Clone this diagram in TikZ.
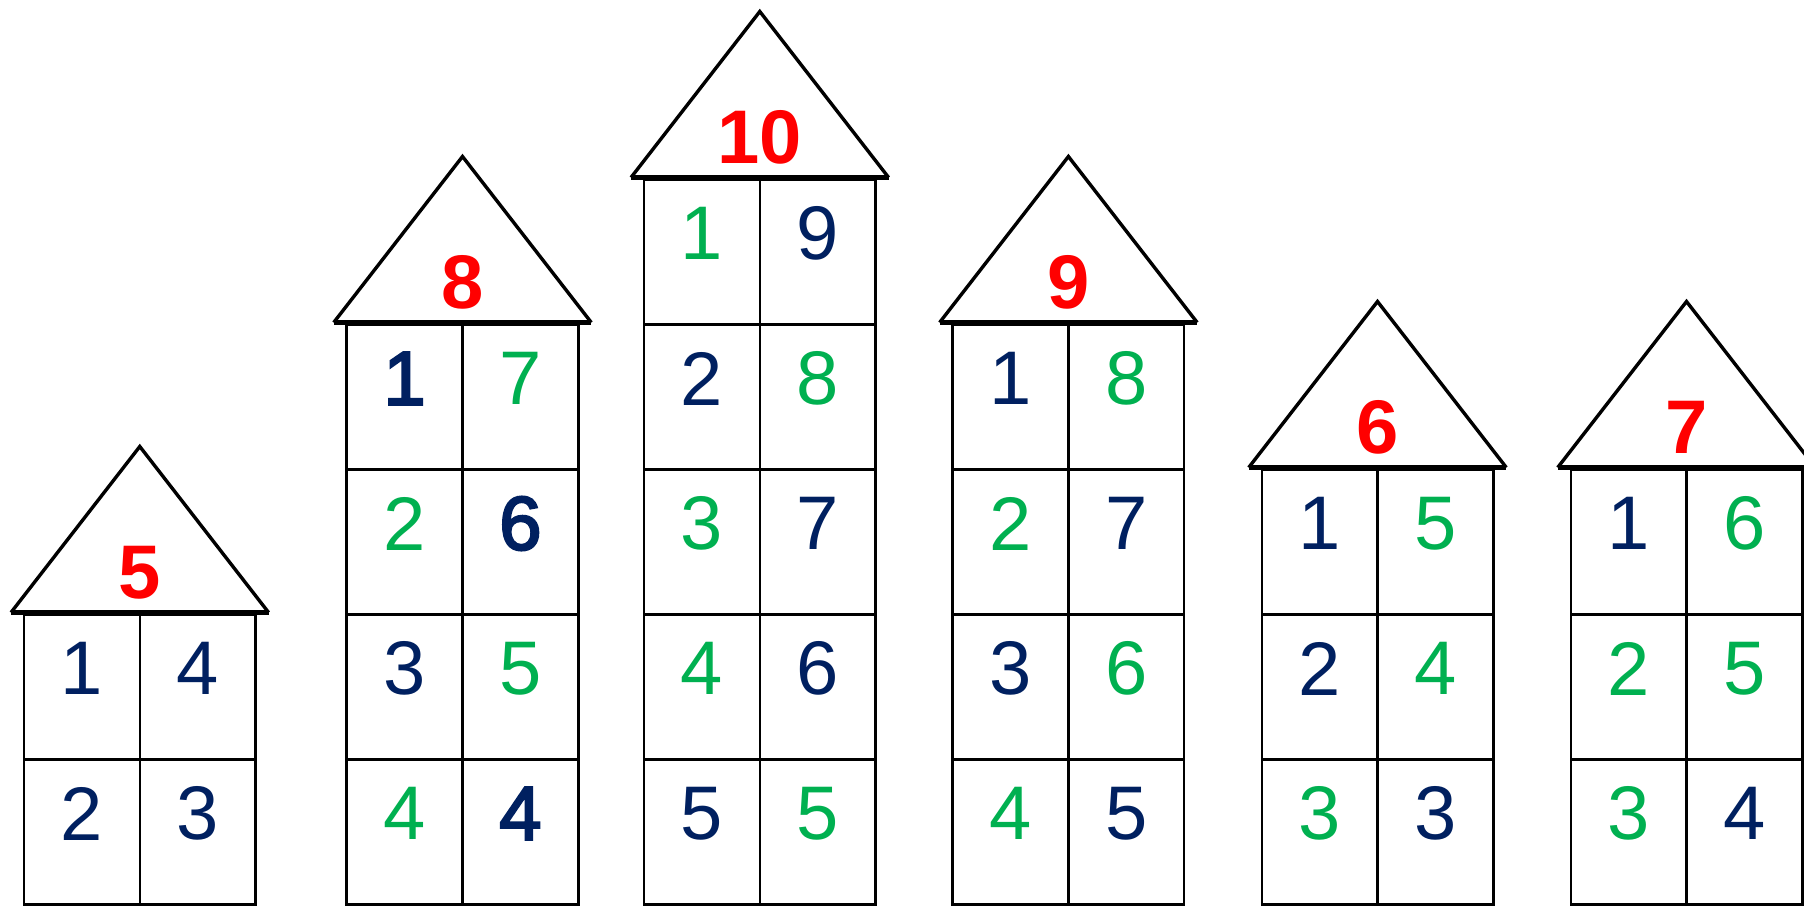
\documentclass[tikz,border=0pt]{standalone}
\usepackage{fontspec}
\setmainfont{Liberation Sans}
\newfontface\heavyfont[FakeBold=3]{Liberation Sans}
\definecolor{sumred}{HTML}{FF0000}
\definecolor{partnavy}{HTML}{002060}
\definecolor{partgreen}{HTML}{00B050}

\begin{document}
\begin{tikzpicture}[
    x=0.5pt, y=-0.5pt,
    roof/.style={line width=1.7pt, line join=miter},
    eave/.style={line width=2.4pt},
    cell/.style={line width=1.2pt},
    sum/.style={font=\fontsize{38}{40}\selectfont\bfseries, text=sumred, inner sep=0pt},
    part/.style={font=\fontsize{38}{40}\selectfont, inner sep=0pt},
    nv/.style={text=partnavy},
    nvb/.style={text=partnavy, font=\heavyfont\fontsize{38}{40}\selectfont},
    gr/.style={text=partgreen}
]
    \useasboundingbox (0,0) rectangle (1804,906);
    \clip (0,0) rectangle (1804,906);

    % House 5
    \begin{scope}[shift={(24,614.5)}]
        \draw[roof] (-13,-2) -- (115.8,-168) -- (244.6,-2);
        \foreach \a/\sa/\b/\sb [count=\r from 0] in {1/nv/4/nv, 2/nv/3/nv} {
            \draw[cell] (0,\r*145) rectangle ++(115.8,145);
            \draw[cell] (115.8,\r*145) rectangle ++(115.8,145);
            \node[part,\sa] (h5-\r-a) at (57.9,\r*145+54) {\a};
            \node[part,\sb] (h5-\r-b) at (173.7,\r*145+54) {\b};
        }
        \draw[eave] (-13,-2) -- (244.6,-2);
        \node[sum] (h5-sum) at (115.8,-42) {5};
    \end{scope}

    % House 8
    \begin{scope}[shift={(346.7,324.5)}, cell/.append style={line width=1.5pt}]
        \draw[roof] (-13,-2) -- (115.8,-168) -- (244.6,-2);
        \foreach \a/\sa/\b/\sb [count=\r from 0] in {1/nvb/7/gr, 2/gr/6/nvb, 3/nv/5/gr, 4/gr/4/nvb} {
            \draw[cell] (0,\r*145) rectangle ++(115.8,145);
            \draw[cell] (115.8,\r*145) rectangle ++(115.8,145);
            \node[part,\sa] (h8-\r-a) at (57.9,\r*145+54) {\a};
            \node[part,\sb] (h8-\r-b) at (173.7,\r*145+54) {\b};
        }
        \draw[eave] (-13,-2) -- (244.6,-2);
        \node[sum] (h8-sum) at (115.8,-42) {8};
    \end{scope}

    % House 10
    \begin{scope}[shift={(644,179.5)}]
        \draw[roof] (-13,-2) -- (115.8,-168) -- (244.6,-2);
        \foreach \a/\sa/\b/\sb [count=\r from 0] in {1/gr/9/nv, 2/nv/8/gr, 3/gr/7/nv, 4/gr/6/nv, 5/nv/5/gr} {
            \draw[cell] (0,\r*145) rectangle ++(115.8,145);
            \draw[cell] (115.8,\r*145) rectangle ++(115.8,145);
            \node[part,\sa] (h10-\r-a) at (57.9,\r*145+54) {\a};
            \node[part,\sb] (h10-\r-b) at (173.7,\r*145+54) {\b};
        }
        \draw[eave] (-13,-2) -- (244.6,-2);
        \node[sum] (h10-sum) at (115.8,-42) {10};
    \end{scope}

    % House 9
    \begin{scope}[shift={(952.6,324.5)}]
        \draw[roof] (-13,-2) -- (115.8,-168) -- (244.6,-2);
        \foreach \a/\sa/\b/\sb [count=\r from 0] in {1/nv/8/gr, 2/gr/7/nv, 3/nv/6/gr, 4/gr/5/nv} {
            \draw[cell] (0,\r*145) rectangle ++(115.8,145);
            \draw[cell] (115.8,\r*145) rectangle ++(115.8,145);
            \node[part,\sa] (h9-\r-a) at (57.9,\r*145+54) {\a};
            \node[part,\sb] (h9-\r-b) at (173.7,\r*145+54) {\b};
        }
        \draw[eave] (-13,-2) -- (244.6,-2);
        \node[sum] (h9-sum) at (115.8,-42) {9};
    \end{scope}

    % House 6
    \begin{scope}[shift={(1261.7,469.5)}]
        \draw[roof] (-13,-2) -- (115.8,-168) -- (244.6,-2);
        \foreach \a/\sa/\b/\sb [count=\r from 0] in {1/nv/5/gr, 2/nv/4/gr, 3/gr/3/nv} {
            \draw[cell] (0,\r*145) rectangle ++(115.8,145);
            \draw[cell] (115.8,\r*145) rectangle ++(115.8,145);
            \node[part,\sa] (h6-\r-a) at (57.9,\r*145+54) {\a};
            \node[part,\sb] (h6-\r-b) at (173.7,\r*145+54) {\b};
        }
        \draw[eave] (-13,-2) -- (244.6,-2);
        \node[sum] (h6-sum) at (115.8,-42) {6};
    \end{scope}

    % House 7 (runs off the right edge)
    \begin{scope}[shift={(1570.7,469.5)}]
        \draw[roof] (-13,-2) -- (115.8,-168) -- (244.6,-2);
        \foreach \a/\sa/\b/\sb [count=\r from 0] in {1/nv/6/gr, 2/gr/5/gr, 3/gr/4/nv} {
            \draw[cell] (0,\r*145) rectangle ++(115.8,145);
            \draw[cell] (115.8,\r*145) rectangle ++(115.8,145);
            \node[part,\sa] (h7-\r-a) at (57.9,\r*145+54) {\a};
            \node[part,\sb] (h7-\r-b) at (173.7,\r*145+54) {\b};
        }
        \draw[eave] (-13,-2) -- (244.6,-2);
        \node[sum] (h7-sum) at (115.8,-42) {7};
    \end{scope}
\end{tikzpicture}
\end{document}
